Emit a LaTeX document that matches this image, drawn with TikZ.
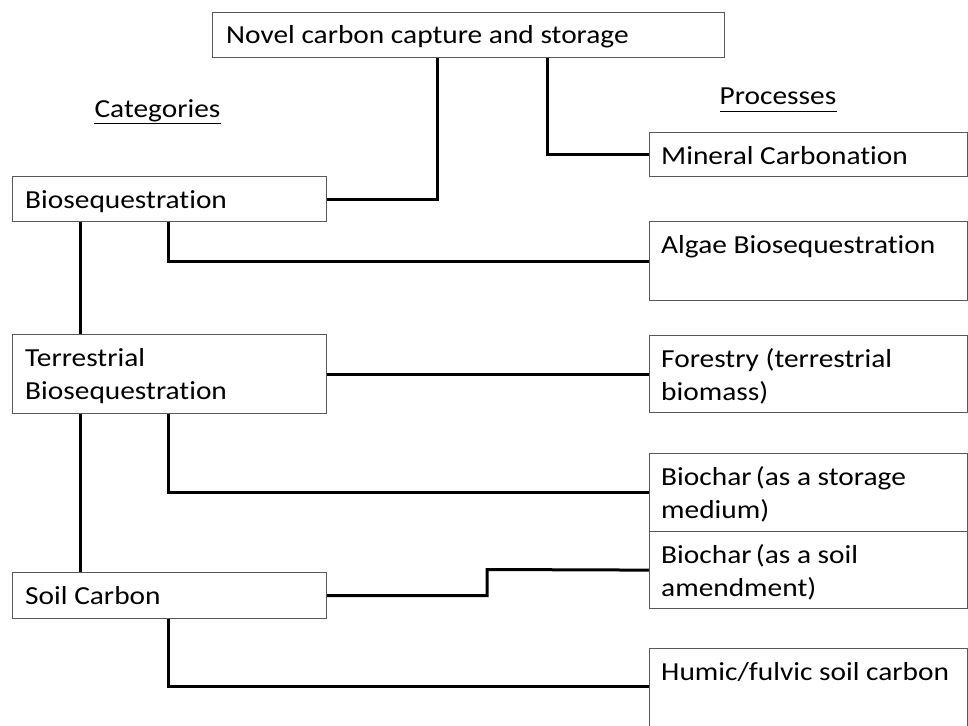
\documentclass[tikz,border=0pt]{standalone}
\usepackage{fontspec}
\setmainfont{Carlito}[FakeStretch=1.13, Ligatures=NoCommon]
\begin{document}
\begin{tikzpicture}[x=1pt,y=-1pt,
  box/.style={draw=black!65, line width=1.2pt, rectangle, inner sep=0pt, anchor=north west},
  conn/.style={line width=3pt, black},
  txt/.style={inner sep=0pt, anchor=base west, font=\fontsize{26}{33}\selectfont, align=left},
  ulab/.style={inner sep=0pt, anchor=base, font=\fontsize{26}{33}\selectfont},
  uline/.style={line width=1.5pt, black}
  ]
\useasboundingbox (0,0) rectangle (968,725);
% boxes
\node[box, minimum width=512pt, minimum height=45pt] (top) at (212,12) {};
\node[box, minimum width=317.5pt, minimum height=44pt] (min) at (649,132) {};
\node[box, minimum width=314pt, minimum height=45pt] (bio) at (12,176) {};
\node[box, minimum width=317.5pt, minimum height=79pt] (alg) at (649,221) {};
\node[box, minimum width=314pt, minimum height=79pt] (ter) at (12,334) {};
\node[box, minimum width=317.5pt, minimum height=77pt] (for) at (649,335) {};
\node[box, minimum width=317.5pt, minimum height=78pt] (bcs) at (649,453) {};
\node[box, minimum width=317.5pt, minimum height=77pt] (bca) at (649,531) {};
\node[box, minimum width=314pt, minimum height=46pt] (soil) at (12,572) {};
\node[box, minimum width=317.5pt, minimum height=92pt] (hum) at (649,648) {};
% texts
\node[txt] (ttop) at ([xshift=14pt,yshift=-32pt]top.north west) {Novel carbon capture and storage};
\node[txt] (tmin) at ([xshift=12pt,yshift=-32pt]min.north west) {Mineral Carbonation};
\node[txt] (tbio) at ([xshift=13pt,yshift=-32pt]bio.north west) {Biosequestration};
\node[txt] (talg) at ([xshift=12pt,yshift=-32pt]alg.north west) {Algae Biosequestration};
\node[txt] (tter) at ([xshift=13pt,yshift=-65pt]ter.north west) {Terrestrial\\Biosequestration};
\node[txt] (tfor) at ([xshift=12pt,yshift=-65pt]for.north west) {Forestry (terrestrial\\biomass)};
\node[txt] (tbcs) at ([xshift=12pt,yshift=-65pt]bcs.north west) {Biochar\,(as a storage\\medium)};
\node[txt] (tbca) at ([xshift=12pt,yshift=-65pt]bca.north west) {Biochar\,(as a soil\\amendment)};
\node[txt] (tsoil) at ([xshift=13pt,yshift=-32pt]soil.north west) {Soil Carbon};
\node[txt] (thum) at ([xshift=12pt,yshift=-32pt]hum.north west) {Humic/fulvic soil carbon};
% headings
\node[ulab] (cat) at (157.5,117) {Categories};
\draw[uline] ([yshift=-6.5pt]cat.base west) -- ([yshift=-6.5pt]cat.base east);
\node[ulab] (proc) at (778,104) {Processes};
\draw[uline] ([yshift=-7.5pt]proc.base west) -- ([yshift=-7.5pt]proc.base east);
% connectors
\coordinate (step) at (487,569.5);
\draw[conn] ([xshift=225pt]top.south west) |- (bio.east);
\draw[conn] ([xshift=335pt]top.south west) |- (min.west);
\draw[conn] ([xshift=156pt]bio.south west) |- (alg.west);
\draw[conn] ([xshift=68pt]bio.south west) -- ([xshift=68pt]ter.north west);
\draw[conn] (ter.east) -- (for.west);
\draw[conn] ([xshift=156pt]ter.south west) |- (bcs.west);
\draw[conn] ([xshift=68pt]ter.south west) -- ([xshift=68pt]soil.north west);
\draw[conn] (soil.east) -| (step) -- (bca.west);
\draw[conn] ([xshift=156pt]soil.south west) |- ([yshift=8pt]hum.west);
\end{tikzpicture}
\end{document}
